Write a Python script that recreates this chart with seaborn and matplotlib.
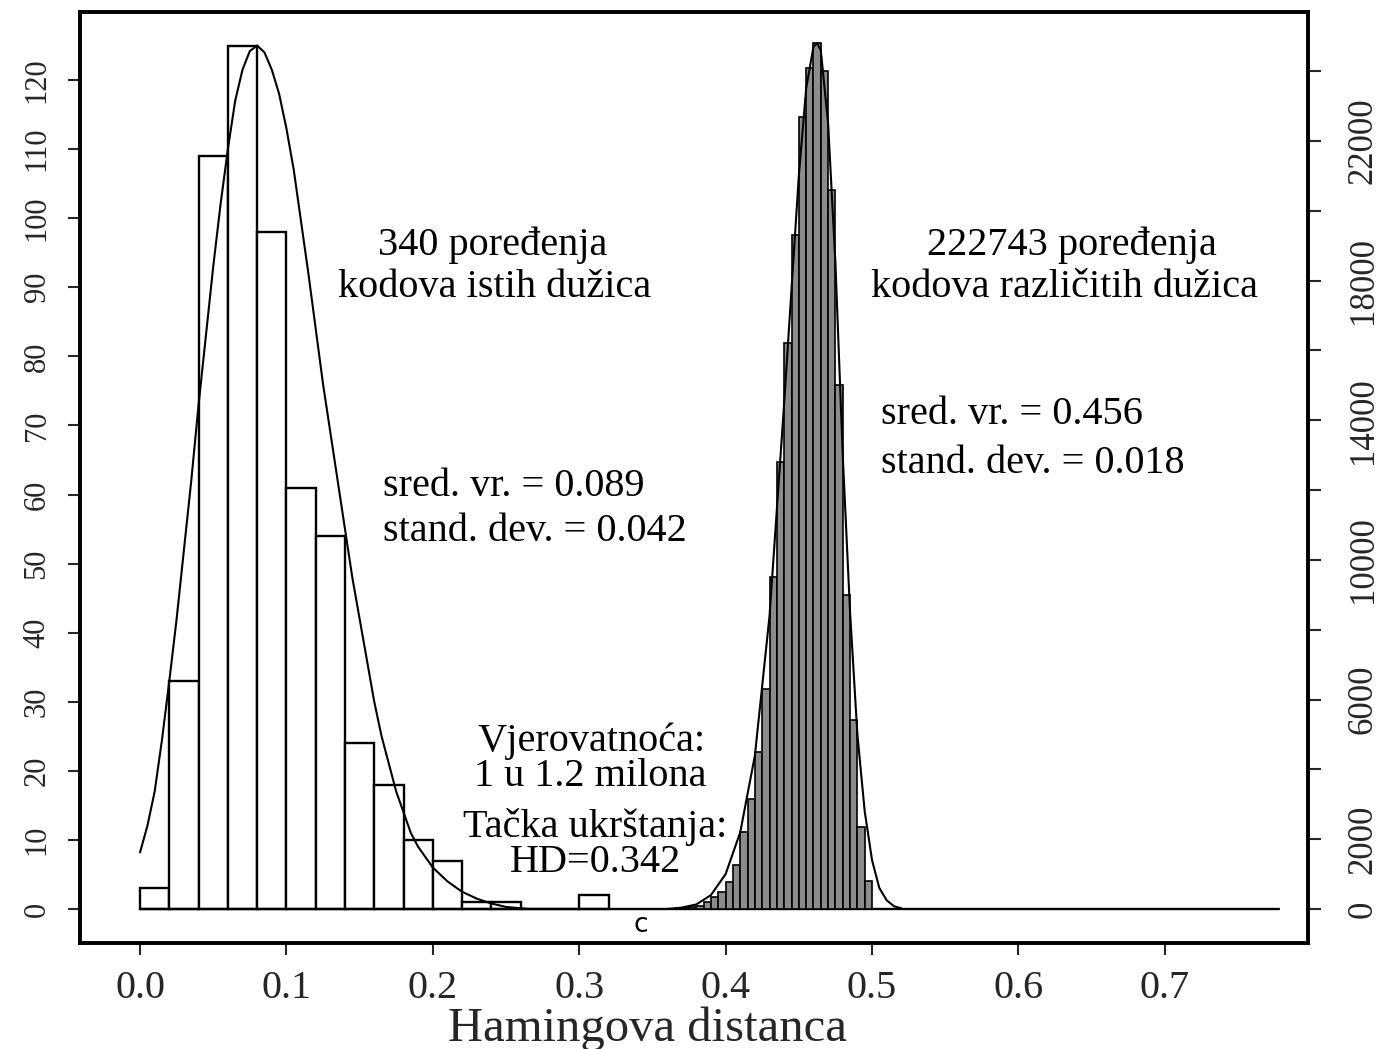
import matplotlib
matplotlib.use("Agg")
import matplotlib.pyplot as plt
import seaborn as sns

# ---------------- data ----------------
# histogram of comparisons of codes of the same iris (left axis), bin width 0.02
same_bin_left = [0.00, 0.02, 0.04, 0.06, 0.08, 0.10, 0.12, 0.14, 0.16, 0.18,
                 0.20, 0.22, 0.24, 0.26, 0.28, 0.30]
same_counts = [3, 33, 109, 125, 98, 61, 54, 24, 18, 10, 7, 1, 1, 0, 0, 2]
same_bin_width = 0.02

# histogram of comparisons of codes of different irises (right axis), bin width 0.005
diff_bin_left = [0.370, 0.375, 0.380, 0.385, 0.390, 0.395, 0.400, 0.405, 0.410,
                 0.415, 0.420, 0.425, 0.430, 0.435, 0.440, 0.445, 0.450, 0.455,
                 0.460, 0.465, 0.470, 0.475, 0.480, 0.485, 0.490, 0.495]
diff_counts = [20, 50, 100, 200, 350, 500, 780, 1250, 2200, 3150, 4500, 6300,
               9500, 12800, 16200, 19300, 22700, 24100, 24800, 24000, 20600,
               15000, 9000, 5400, 2350, 800]
diff_bin_width = 0.005

# fitted curves
same_curve_x = [0.000, 0.005, 0.010, 0.015, 0.020, 0.025, 0.030, 0.035, 0.040,
                0.045, 0.050, 0.055, 0.060, 0.065, 0.070, 0.075, 0.080, 0.085,
                0.090, 0.095, 0.100, 0.105, 0.110, 0.115, 0.120, 0.125, 0.130,
                0.135, 0.140, 0.145, 0.150, 0.155, 0.160, 0.165, 0.170, 0.175,
                0.180, 0.185, 0.190, 0.200, 0.210, 0.220, 0.230, 0.240, 0.250,
                0.265]
same_curve_y = [8.2, 12.0, 17.0, 24.5, 33.0, 42.0, 52.0, 62.0, 73.0,
                83.0, 93.0, 102.0, 110.0, 117.0, 121.5, 124.2, 125.0, 124.0,
                121.5, 118.0, 113.0, 107.0, 99.5, 92.0, 84.0, 76.0, 69.0,
                62.0, 55.0, 48.0, 42.0, 36.0, 30.0, 25.0, 21.0, 17.0,
                14.0, 11.0, 9.0, 6.0, 4.0, 2.5, 1.5, 0.8, 0.3,
                0.0]

diff_curve_x = [0.360, 0.370, 0.380, 0.390, 0.400, 0.410, 0.420, 0.430, 0.440,
                0.450, 0.455, 0.460, 0.4625, 0.465, 0.470, 0.475, 0.480, 0.485,
                0.490, 0.495, 0.500, 0.505, 0.510, 0.515, 0.520]
diff_curve_y = [0, 40, 130, 400, 1000, 2200, 4400, 8400, 14500,
                21000, 23500, 24700, 24800, 24600, 22500, 18500, 13000, 8500,
                5000, 2800, 1400, 600, 250, 80, 20]

baseline_x = [0.0, 0.778]
baseline_y = [0.0, 0.0]

x_ticks = [0.0, 0.1, 0.2, 0.3, 0.4, 0.5, 0.6, 0.7]
x_tick_labels = ["0.0", "0.1", "0.2", "0.3", "0.4", "0.5", "0.6", "0.7"]
left_ticks = [0, 10, 20, 30, 40, 50, 60, 70, 80, 90, 100, 110, 120]
right_ticks = [0, 2000, 4000, 6000, 8000, 10000, 12000, 14000, 16000, 18000,
               20000, 22000, 24000]
right_tick_labels = ["0", "2000", "", "6000", "", "10000", "", "14000", "",
                     "18000", "", "22000", ""]

x_label = "Hamingova distanca"

# annotations: (x, y on left axis scale, text, horizontal alignment)
annotations = [
    (0.2411, 96.1, "340 poređenja", "center"),
    (0.2425, 90.0, "kodova istih dužica", "center"),
    (0.166, 61.2, "sred. vr. = 0.089", "left"),
    (0.166, 54.7, "stand. dev. = 0.042", "left"),
    (0.6366, 96.1, "222743 poređenja", "center"),
    (0.6318, 89.9, "kodova različitih dužica", "center"),
    (0.506, 71.6, "sred. vr. = 0.456", "left"),
    (0.506, 64.5, "stand. dev. = 0.018", "left"),
    (0.3087, 24.3, "Vjerovatnoća:", "center"),
    (0.3074, 19.25, "1 u 1.2 milona", "center"),
    (0.3108, 11.87, "Tačka ukrštanja:", "center"),
    (0.3108, 6.8, "HD=0.342", "center"),
]
cross_marker = (0.3422, -2.3, "c")

# ---------------- style ----------------
sns.set_style("white")
plt.rcParams["font.family"] = ["Liberation Serif", "DejaVu Serif"]

W, H = 1383, 1049
fig = plt.figure(figsize=(W / 100, H / 100), dpi=100)
ax = fig.add_axes([80 / W, (H - 943) / H, 1228 / W, 931 / H])

same_edges = same_bin_left + [same_bin_left[-1] + same_bin_width]
same_centers = [b + same_bin_width / 2 for b in same_bin_left]
diff_edges = diff_bin_left + [diff_bin_left[-1] + diff_bin_width]
diff_centers = [b + diff_bin_width / 2 for b in diff_bin_left]

sns.histplot(x=same_centers, weights=same_counts, bins=same_edges, ax=ax,
             color="white", edgecolor="black", linewidth=1.7, alpha=1)
sns.lineplot(x=baseline_x, y=baseline_y, ax=ax, color="black", linewidth=1.7)
sns.lineplot(x=same_curve_x, y=same_curve_y, ax=ax, color="black",
             linewidth=1.5, estimator=None, sort=False)

ax2 = ax.twinx()
sns.histplot(x=diff_centers, weights=diff_counts, bins=diff_edges, ax=ax2,
             color="#8c8c8c", edgecolor="black", linewidth=1.2, alpha=1)
sns.lineplot(x=diff_curve_x, y=diff_curve_y, ax=ax2, color="black",
             linewidth=1.5, estimator=None, sort=False)

ax.set_xlim(-0.041, 0.7978)
ax.set_ylim(-4.92, 129.85)
ax2.set_ylim(-974, 25695)

ax.set_xticks(x_ticks)
ax.set_xticklabels(x_tick_labels)
ax.set_yticks(left_ticks)
ax.set_yticklabels([str(t) for t in left_ticks], rotation=90, va="center")
ax2.set_yticks(right_ticks)
ax2.set_yticklabels(right_tick_labels, rotation=90, va="center")

ax.set_ylabel("")
ax2.set_ylabel("")
ax.set_xlabel(x_label, fontsize=35)
ax.xaxis.set_label_coords((647 - 80) / 1228, -0.068)

ax.tick_params(axis="x", direction="out", length=8.5, width=1.5,
               labelsize=29, pad=11, bottom=True)
ax.tick_params(axis="y", direction="out", length=8.5, width=1.5,
               labelsize=22, pad=12, left=True)
ax2.tick_params(axis="y", direction="out", length=9, width=1.5,
                labelsize=25, pad=19, right=True)

for a in (ax, ax2):
    for sp in a.spines.values():
        sp.set_linewidth(2.6)
        sp.set_color("black")

for x, y, s, ha in annotations:
    ax.text(x, y, s, ha=ha, va="center", fontsize=29, color="black")
ax.text(cross_marker[0], cross_marker[1], cross_marker[2], ha="center",
        va="center", fontsize=19, family=["DejaVu Sans"], color="black")

fig.savefig("out.png", dpi=100)
